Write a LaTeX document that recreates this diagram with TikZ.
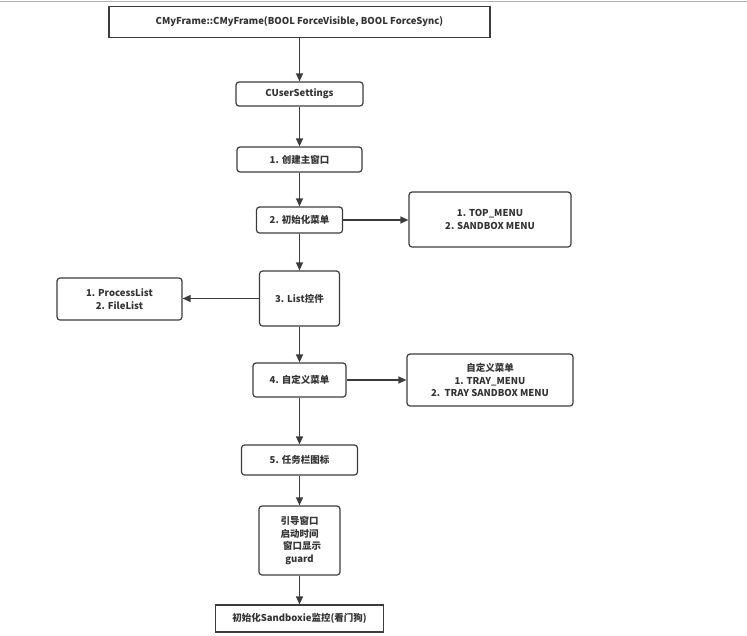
\documentclass[tikz,border=0pt]{standalone}
\usepackage{fontspec}
\setmainfont{Noto Sans CJK SC}
\usetikzlibrary{arrows.meta}
\definecolor{lineC}{HTML}{3C3C3C}
\definecolor{txtC}{HTML}{333333}
\tikzset{
  box/.style={draw=lineC, line width=1.2pt, rounded corners=3pt, text=txtC,
    align=center, inner sep=0pt, font=\bfseries\fontsize{9.5}{12.5}\selectfont},
  sqbox/.style={box, sharp corners},
  flow/.style={draw=lineC, line width=1.2pt, -{Triangle[length=8pt,width=7pt]}}
}
\begin{document}
\begin{tikzpicture}[x=1pt,y=-1pt]
    % --- 画布范围 ---
    \useasboundingbox (0,0) rectangle (747,635);
    % 顶部的灰线
    \draw[gray!60, line width=1.5pt] (0,1.5) -- (747,1.5);

    % --- 主流程 (中间一列) ---
    \def\mx{299.5}
    \node[sqbox, minimum width=381pt, minimum height=31pt] (frame) at (\mx,22) {CMyFrame::CMyFrame(BOOL ForceVisible, BOOL ForceSync)};
    \node[box, minimum width=127pt, minimum height=24pt] (settings) at (\mx,94) {CUserSettings};
    \node[box, minimum width=125pt, minimum height=25pt] (mainwnd) at (\mx,159.5) {1. 创建主窗口};
    \node[box, minimum width=86pt, minimum height=26pt] (initmenu) at (\mx,220) {2. 初始化菜单};
    \node[box, minimum width=80pt, minimum height=55pt] (listctrl) at (\mx,298.5) {3. List控件};
    \node[box, minimum width=93pt, minimum height=34pt] (custmenu) at (\mx,380) {4. 自定义菜单};
    \node[box, minimum width=116pt, minimum height=30pt] (trayicon) at (\mx,460) {5. 任务栏图标};
    \node[box, minimum width=81pt, minimum height=69pt] (guard) at (\mx,540.5) {引导窗口\\启动时间\\\hspace*{5pt}窗口显示\\guard};
    \node[sqbox, minimum width=168pt, minimum height=27pt] (sandbox) at (\mx,618.5) {初始化Sandboxie监控(看门狗)};

    % --- 两侧的说明框 ---
    \node[box, minimum width=162pt, minimum height=55pt] (topmenu) at (490,219.5) {1. TOP\_MENU\\2. SANDBOX MENU};
    \node[box, minimum width=125pt, minimum height=42pt] (lists) at (119.5,299) {1. ProcessList\\2. FileList};
    \node[box, minimum width=166pt, minimum height=52pt] (traymenu) at (490,380) {自定义菜单\\1. TRAY\_MENU\\2.\ \ TRAY SANDBOX MENU};

    % --- 连线 ---
    \draw[flow] (frame) -- (settings);
    \draw[flow] (settings) -- (mainwnd);
    \draw[flow] (mainwnd) -- (initmenu);
    \draw[flow] (initmenu) -- (listctrl);
    \draw[flow] (listctrl) -- (custmenu);
    \draw[flow] (custmenu) -- (trayicon);
    \draw[flow] (trayicon) -- (guard);
    \draw[flow] (guard) -- (sandbox);
    % 横向箭头
    \draw[flow] (initmenu) -- (topmenu.west |- initmenu);
    \draw[flow] (listctrl) -- (lists.east |- listctrl);
    \draw[flow] (custmenu) -- (traymenu.west |- custmenu);
\end{tikzpicture}
\end{document}
